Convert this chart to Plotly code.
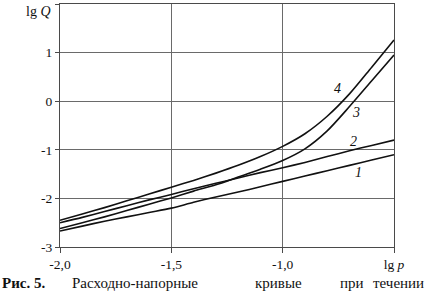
import plotly.graph_objects as go

lg_p = [-2.0, -1.9, -1.8, -1.7, -1.6, -1.5, -1.4, -1.3, -1.2, -1.1, -1.0, -0.9, -0.8, -0.7, -0.6, -0.5]
curve1 = [-2.67, -2.57, -2.47, -2.38, -2.29, -2.20, -2.08, -1.97, -1.87, -1.76, -1.65, -1.54, -1.43, -1.32, -1.21, -1.10]
curve2 = [-2.50, -2.39, -2.27, -2.15, -2.03, -1.92, -1.80, -1.69, -1.58, -1.47, -1.37, -1.26, -1.14, -1.02, -0.91, -0.80]
curve3 = [-2.62, -2.50, -2.38, -2.25, -2.12, -1.99, -1.85, -1.72, -1.56, -1.40, -1.22, -0.98, -0.61, -0.11, 0.42, 0.95]
curve4 = [-2.45, -2.32, -2.19, -2.05, -1.91, -1.77, -1.63, -1.48, -1.32, -1.14, -0.93, -0.67, -0.31, 0.15, 0.70, 1.26]

curve_names = ["1", "2", "3", "4"]
label_x = [-0.658, -0.68, -0.671, -0.756]
label_y = [-1.47, -0.82, -0.24, 0.27]

x_tickvals = [-2.0, -1.5, -1.0, -0.5]
x_ticktext = ["-2,0", "-1,5", "-1,0", "lg <i>p</i>"]
y_tickvals = [-3, -2, -1, 0, 1, 2]
y_ticktext = ["-3", "-2", "-1", "0", "1", ""]

FONT = "Liberation Serif, Times New Roman, serif"

fig = go.Figure()
for name, ys in zip(curve_names, [curve1, curve2, curve3, curve4]):
    fig.add_trace(go.Scatter(x=lg_p, y=ys, mode="lines", name=name,
                             line=dict(color="#111111", width=1.6, shape="spline", smoothing=0.8),
                             showlegend=False, hoverinfo="skip"))

for name, lx, ly in zip(curve_names, label_x, label_y):
    fig.add_annotation(x=lx, y=ly, text="<i>" + name + "</i>", showarrow=False,
                       font=dict(family=FONT, size=14, color="#111111"))

fig.add_annotation(xref="paper", yref="y", x=-0.022, y=2.0, xanchor="right", yanchor="top",
                   text="lg <i>Q</i>", showarrow=False, yshift=2,
                   font=dict(family=FONT, size=14, color="#111111"))

# caption: (text, pixel x, anchor)
caption = [("<b>Рис. 5.</b>", 0, "left"), ("Расходно-напорные", 70, "left"),
           ("кривые", 278, "center"), ("при", 352, "center"), ("течении", 426, "right")]
for txt, px, anc in caption:
    fig.add_annotation(xref="paper", yref="paper", x=(px - 60) / 334.0, y=-0.148,
                       xanchor=anc, yanchor="middle", text=txt, showarrow=False,
                       font=dict(family=FONT, size=15, color="#111111"))

fig.update_layout(
    width=428, height=297,
    margin=dict(l=60, r=34, t=4, b=50),
    paper_bgcolor="white", plot_bgcolor="white",
    font=dict(family=FONT, size=13.5, color="#111111"),
    xaxis=dict(range=[-2.0, -0.5], tickvals=x_tickvals, ticktext=x_ticktext,
               showgrid=True, gridcolor="#6a6a6a", gridwidth=1,
               showline=True, linecolor="#4a4a4a", linewidth=1, mirror=True,
               ticks="outside", ticklen=5, tickcolor="#4a4a4a", zeroline=False),
    yaxis=dict(range=[-3, 2], tickvals=y_tickvals, ticktext=y_ticktext,
               showgrid=True, gridcolor="#6a6a6a", gridwidth=1,
               showline=True, linecolor="#4a4a4a", linewidth=1, mirror=True,
               ticks="outside", ticklen=4, tickcolor="#4a4a4a", zeroline=False),
)

fig.write_html("out.html", config={"displayModeBar": False},
               post_script="document.body.style.margin='0';document.body.style.padding='0';")
